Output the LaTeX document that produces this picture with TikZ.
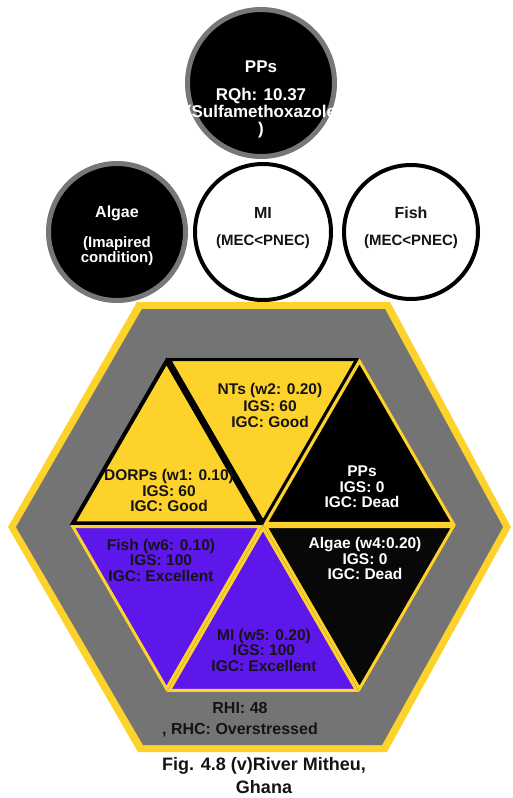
\documentclass[tikz,border=0pt]{standalone}
\usepackage{fontspec}
\setmainfont{Liberation Sans}
\usetikzlibrary{calc}
\definecolor{hexyellow}{HTML}{FDD22B}
\definecolor{hexgray}{HTML}{747474}
\definecolor{ringgray}{HTML}{777777}
\definecolor{mivioleta}{HTML}{5E17EB}
\definecolor{softblack}{HTML}{080808}
\definecolor{inktext}{HTML}{141414}
% one facet of the index hexagon, pulled slightly towards its centroid
\newcommand\facet[4]{%
  \coordinate (g) at (barycentric cs:#2=1,#3=1,#4=1);
  \draw[#1] ($(g)!0.97!(#2)$) -- ($(g)!0.97!(#3)$) -- ($(g)!0.97!(#4)$) -- cycle;}
\begin{document}
\begin{tikzpicture}[x=1pt,y=-1pt,
  lbl/.style={font=\fontsize{15.5}{15.5}\selectfont\bfseries, align=center, inner sep=0pt, text=inktext},
  wlbl/.style={lbl, text=white},
  circtxt/.style={font=\fontsize{15}{14.5}\selectfont\bfseries},
  circhead/.style={font=\fontsize{16}{15}\selectfont\bfseries},
  darkdisc/.style={circle, draw=ringgray, fill=black, line width=5pt},
  lightdisc/.style={circle, draw=black, fill=white, line width=4pt},
  blackedge/.style={line join=miter},
  yelloworder/.style={draw=hexyellow, line width=3pt, line join=miter}]
\useasboundingbox (0,0) rectangle (513,798);

% ---- receptor circles ----
\node[darkdisc, minimum size=147pt] (ppc) at (261,83) {};
\node[darkdisc, minimum size=137pt] (alc) at (117,232) {};
\node[lightdisc, minimum size=136pt] (mic) at (263,232) {};
\node[lightdisc, minimum size=134pt] (fic) at (411,232) {};

\node[wlbl, font=\fontsize{17}{15}\selectfont\bfseries] (ppt) at (261,67) {PPs};
\node[wlbl, font=\fontsize{17}{14.5}\selectfont\bfseries] (ppb) at (261,113) {RQh: 10.37\\(Sulfamethoxazole\\)};
\node[wlbl, circhead] (alt) at (117,213) {Algae};
\node[wlbl, circtxt] (alb) at (117,251) {(Imapired\\condition)};
\node[lbl, circhead] (mit) at (263,213) {MI};
\node[lbl, circtxt] (mib) at (263,242) {(MEC<PNEC)};
\node[lbl, circhead] (fit) at (411,213) {Fish};
\node[lbl, circtxt] (fib) at (411,242) {(MEC<PNEC)};

% ---- outer hexagon frame ----
\fill[hexyellow] (137,302) -- (390,302) -- (511,527) -- (387,752) -- (138,752) -- (8,527) -- cycle;
\fill[hexgray] (142,309) -- (385,309) -- (503,527) -- (382,745) -- (143,745) -- (16,527) -- cycle;

% ---- inner hexagon of six facets ----
\coordinate (C) at (263,525);
\coordinate (V0) at (456,525);
\coordinate (V1) at (359.5,358);
\coordinate (V2) at (166.5,358);
\coordinate (V3) at (70,525);
\coordinate (V4) at (166.5,692);
\coordinate (V5) at (359.5,692);

\facet{fill=hexyellow, draw=black, line width=3pt, blackedge}{C}{V1}{V2}
\facet{fill=hexyellow, draw=black, line width=4pt, blackedge}{C}{V2}{V3}
\facet{fill=black, yelloworder}{C}{V0}{V1}
\facet{fill=softblack, yelloworder}{C}{V5}{V0}
\facet{fill=mivioleta, yelloworder}{C}{V4}{V5}
\facet{fill=mivioleta, yelloworder}{C}{V3}{V4}

\node[lbl, font=\fontsize{15.5}{16.5}\selectfont\bfseries] (nts) at (270,405.5) {NTs (w2: 0.20)\\IGS: 60\\IGC: Good};
\node[lbl] (dorps) at (169,490.5) {DORPs (w1: 0.10)\\IGS: 60\\IGC: Good};
\node[wlbl] (pps) at (362,487) {PPs\\IGS: 0\\IGC: Dead};
\node[wlbl] (alg) at (365,558.5) {Algae (w4:0.20)\\IGS: 0\\IGC: Dead};
\node[lbl] (mi) at (264,650) {MI (w5: 0.20)\\IGS: 100\\IGC: Excellent};
\node[lbl] (fish) at (161,560) {Fish (w6: 0.10)\\IGS: 100\\IGC: Excellent};

\node[lbl, font=\fontsize{16}{15}\selectfont\bfseries] (rhi) at (240,708) {RHI: 48};
\node[lbl, font=\fontsize{16}{15}\selectfont\bfseries] (rhc) at (240,730) {, RHC: Overstressed};

% ---- caption ----
\node[lbl, font=\fontsize{18}{23}\selectfont\bfseries] (cap) at (264,776) {Fig. 4.8 (v)River Mitheu,\\Ghana};
\end{tikzpicture}
\end{document}
